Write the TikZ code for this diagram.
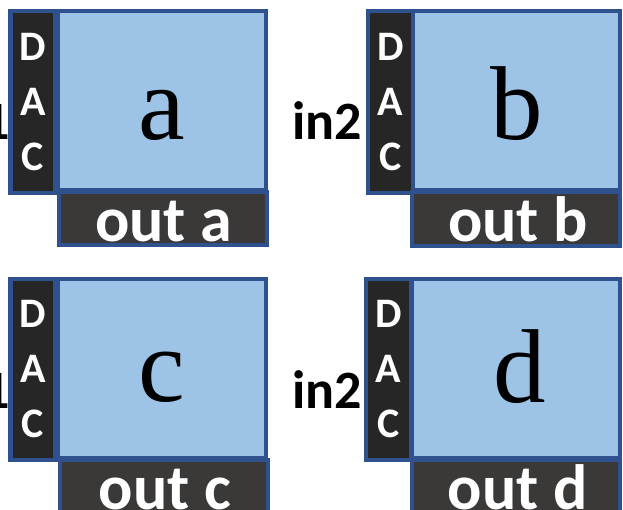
\documentclass[tikz,border=0pt]{standalone}
\usepackage{fontspec}
\newfontfamily\labelsans{Carlito}
\newfontfamily\letterserif{Liberation Serif}

\definecolor{edgeblue}{HTML}{2F528F}
\definecolor{coreblue}{HTML}{9DC3E6}
\definecolor{stripgray}{HTML}{262626}
\definecolor{outgray}{HTML}{3B3838}

\begin{document}
\begin{tikzpicture}[x=1pt,y=-1pt,
  frame/.style={draw=edgeblue, line width=4.5pt, inner sep=0pt, outer sep=0pt},
  dacstrip/.style={frame, fill=stripgray, text=white,
    font=\labelsans\bfseries\fontsize{42}{55}\selectfont, align=center,
    minimum width=45pt, minimum height=182pt},
  core/.style={frame, fill=coreblue, minimum width=208pt, minimum height=179pt},
  outbox/.style={frame, fill=outgray, minimum width=208pt},
  coreletter/.style={anchor=base, inner sep=0pt,
    font=\letterserif\fontsize{105}{105}\selectfont},
  outtext/.style={anchor=base, inner sep=0pt, text=white,
    font=\labelsans\bfseries\fontsize{64}{64}\selectfont},
  portlabel/.style={anchor=base east, inner sep=0pt,
    font=\labelsans\bfseries\fontsize{54}{54}\selectfont}]

\useasboundingbox (0,0) rectangle (623,510);

% block a
\node[dacstrip] (dacA) at (33,102) {D\\A\\C};
\node[core] (coreA) at (162,100.5) {};
\node[outbox, minimum height=53pt] (outA) at (163,218.5) {};
\node[coreletter] (letA) at (162,140) {a};
\node[outtext] (txtA) at (163.5,242) {out a};
\node[portlabel] (inA) at (10,140) {in1};

% block b
\node[dacstrip] (dacB) at (390.5,102) {D\\A\\C};
\node[core, minimum width=207pt] (coreB) at (516.5,100.5) {};
\node[outbox, minimum height=54pt] (outB) at (516,219) {};
\node[coreletter] (letB) at (517,140) {b};
\node[outtext] (txtB) at (518,242) {out b};
\node[portlabel] (inB) at (362,140) {in2};

% block c
\node[dacstrip, minimum height=181pt] (dacC) at (33,369.5) {D\\A\\C};
\node[core] (coreC) at (162,368.5) {};
\node[outbox, minimum height=56pt] (outC) at (164,488) {};
\node[coreletter] (letC) at (162,401) {c};
\node[outtext] (txtC) at (165,509) {out c};
\node[portlabel] (inC) at (10,408) {in1};

% block d
\node[dacstrip, minimum height=181pt] (dacD) at (388.5,369.5) {D\\A\\C};
\node[core] (coreD) at (516,368.5) {};
\node[outbox, minimum height=56pt] (outD) at (516,488) {};
\node[coreletter] (letD) at (520,402) {d};
\node[outtext] (txtD) at (517.5,509) {out d};
\node[portlabel] (inD) at (362,408) {in2};
\end{tikzpicture}
\end{document}
